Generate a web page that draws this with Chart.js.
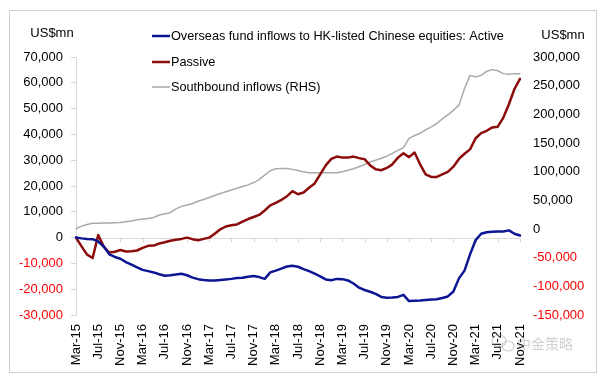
<!DOCTYPE html>
<html>
<head>
<meta charset="utf-8">
<script src="https://cdn.jsdelivr.net/npm/chart.js@4.4.0/dist/chart.umd.min.js"></script>
<style>
html, body { margin: 0; padding: 0; background: #fff; }
#wrap { position: relative; width: 603px; height: 385px; }
</style>
</head>
<body>
<div id="wrap"><canvas id="myChart" width="603" height="385"></canvas></div>
<script>
// month labels, Mar-15 .. Nov-21
const monthNames = ['Jan','Feb','Mar','Apr','May','Jun','Jul','Aug','Sep','Oct','Nov','Dec'];
const categories = [];
for (let i = 0; i < 81; i++) {
    const m = (2 + i) % 12;
    const y = 15 + Math.floor((2 + i) / 12);
    categories.push(monthNames[m] + '-' + y);
}

// US$mn, left axis
const activeFlows = [
    0, -300, -500, -600, -1500, -3500, -6500, -7500, -8200, -9500,
    -10500, -11500, -12500, -13000, -13500, -14200, -14800, -14600, -14300, -14000,
    -14600, -15500, -16100, -16400, -16600, -16600, -16400, -16200, -16000, -15700,
    -15600, -15200, -14900, -15300, -16000, -13500, -12800, -12000, -11200, -10900,
    -11300, -12200, -13000, -14000, -15000, -16200, -16500, -16000, -16100, -16600,
    -17800, -19400, -20300, -21000, -21800, -23000, -23300, -23200, -23000, -22200,
    -24600, -24500, -24400, -24200, -24000, -23900, -23400, -22800, -20900, -15800,
    -12800, -6500, -1000, 1500, 2100, 2300, 2400, 2400, 2800, 1500, 800
];
const passiveFlows = [
    0, -3400, -6600, -7900, 1000, -3500, -5800, -5500, -4800, -5400,
    -5300, -5000, -4000, -3200, -3100, -2300, -1800, -1200, -800, -500,
    0, -600, -1000, -500, 0, 1500, 3200, 4300, 4800, 5100,
    6200, 7200, 8000, 8800, 10500, 12500, 13500, 14600, 16000, 18000,
    16800, 17500, 19300, 21000, 24500, 28000, 30500, 31400, 31000, 31000,
    31400, 30800, 30400, 28000, 26500, 26100, 27000, 28400, 31000, 32700,
    31200, 33000, 28400, 24500, 23500, 23500, 24500, 25500, 27500, 30500,
    32500, 34200, 38500, 40500, 41400, 42700, 43000, 46500, 51700, 57600, 61500
];
// US$mn, right axis
const southbound = [
    500, 5000, 8000, 9900, 10200, 10500, 10600, 10800, 11200, 12500,
    14000, 16000, 17400, 18500, 20000, 24400, 26500, 28500, 35000, 39500,
    42000, 44500, 48500, 51500, 55000, 58500, 62000, 65000, 68000, 71000,
    74000, 77000, 81000, 86000, 94000, 101600, 105000, 105700, 105500, 104000,
    102000, 100000, 98100, 98000, 98000, 98000, 98000, 98100, 100000, 102500,
    105000, 108500, 112500, 117000, 120000, 123500, 127000, 132000, 137000, 142000,
    158000, 163000, 167000, 173000, 178000, 184000, 192000, 199000, 207000, 216000,
    245000, 268000, 265000, 268000, 275000, 278000, 276000, 271000, 270000, 271000, 271000
];

const seriesNames = [
    'Overseas fund inflows to HK-listed Chinese equities: Active',
    'Passive',
    'Southbound inflows (RHS)'
];
const seriesColors = ['#0c1694', '#8c0c0c', '#aaaaaa'];

const font = "Arial, 'Liberation Sans', sans-serif";
const axisGrey = '#d9d9d9';

function fmt(v) {
    return v.toLocaleString('en-US');
}
function tickColor(ctx) {
    return ctx.tick && ctx.tick.value < 0 ? '#ff0000' : '#000000';
}

// border, zero line, legend, unit labels, watermark
const decor = {
    id: 'decor',
    beforeDraw(chart) {
        const ctx = chart.ctx;
        ctx.save();
        ctx.fillStyle = '#fff';
        ctx.fillRect(0, 0, chart.width, chart.height);
        ctx.strokeStyle = '#d0d0d0';
        ctx.lineWidth = 1;
        ctx.strokeRect(9.5, 10.5, 587, 362);
        ctx.restore();
    },
    beforeDatasetsDraw(chart) {
        const ctx = chart.ctx;
        const area = chart.chartArea;
        const x = chart.scales.x;
        const y0 = Math.round(chart.scales.y.getPixelForValue(0)) + 0.5;
        ctx.save();
        ctx.strokeStyle = axisGrey;
        ctx.lineWidth = 1;
        ctx.beginPath();
        ctx.moveTo(area.left, y0);
        ctx.lineTo(area.right, y0);
        for (let i = 0; i < categories.length; i += 4) {
            const px = Math.round(x.getPixelForValue(i)) + 0.5;
            ctx.moveTo(px, y0);
            ctx.lineTo(px, y0 + 4);
        }
        ctx.stroke();
        ctx.restore();
    },
    afterDraw(chart) {
        const ctx = chart.ctx;
        ctx.save();
        ctx.font = '13px ' + font;
        ctx.textBaseline = 'middle';
        ctx.fillStyle = '#000';
        ctx.textAlign = 'center';
        ctx.fillText('US$mn', 52, 33);
        ctx.fillText('US$mn', 563, 35);

        // legend
        const rows = [36, 62, 87];
        ctx.font = '12.7px ' + font;
        ctx.textAlign = 'left';
        for (let i = 0; i < seriesNames.length; i++) {
            ctx.strokeStyle = seriesColors[i];
            ctx.lineWidth = i < 2 ? 2.5 : 1.5;
            ctx.beginPath();
            ctx.moveTo(152, rows[i]);
            ctx.lineTo(170, rows[i]);
            ctx.stroke();
            ctx.fillStyle = '#000';
            ctx.fillText(seriesNames[i], 171, rows[i] + 0.5);
        }

        // watermark
        ctx.globalAlpha = 0.45;
        ctx.strokeStyle = '#999';
        ctx.lineWidth = 1.2;
        ctx.beginPath();
        ctx.ellipse(499, 341, 7, 6, 0, 0, Math.PI * 2);
        ctx.stroke();
        ctx.beginPath();
        ctx.ellipse(508, 346, 6, 5, 0, 0, Math.PI * 2);
        ctx.stroke();
        ctx.fillStyle = '#999';
        ctx.font = "14px 'Noto Sans CJK SC', sans-serif";
        ctx.fillText('中金策略', 517, 344);
        ctx.restore();
    }
};

new Chart(document.getElementById('myChart'), {
    type: 'line',
    data: {
        labels: categories,
        datasets: [{
            label: seriesNames[0],
            data: activeFlows,
            borderColor: seriesColors[0],
            borderWidth: 2.5,
            yAxisID: 'y'
        }, {
            label: seriesNames[1],
            data: passiveFlows,
            borderColor: seriesColors[1],
            borderWidth: 2.5,
            yAxisID: 'y'
        }, {
            label: seriesNames[2],
            data: southbound,
            borderColor: seriesColors[2],
            borderWidth: 1.5,
            yAxisID: 'y2'
        }]
    },
    options: {
        responsive: false,
        animation: false,
        devicePixelRatio: 1,
        elements: {
            point: { radius: 0 },
            line: { tension: 0, borderJoinStyle: 'round', borderCapStyle: 'round' }
        },
        layout: { padding: { top: 57, left: 0, right: 0, bottom: 0 } },
        plugins: {
            legend: { display: false },
            tooltip: { enabled: false }
        },
        scales: {
            x: {
                grid: { display: false, drawTicks: false },
                border: { display: false },
                ticks: {
                    autoSkip: false,
                    maxRotation: 90,
                    minRotation: 90,
                    padding: 9,
                    color: '#000',
                    font: { family: font, size: 13 },
                    callback: function(val, i) {
                        return i % 4 === 0 ? categories[i] : '';
                    }
                },
                afterFit: function(scale) { scale.height = 70; }
            },
            y: {
                position: 'left',
                min: -30000,
                max: 70000,
                grid: { drawOnChartArea: false, tickLength: 5, color: axisGrey },
                border: { color: axisGrey },
                ticks: {
                    stepSize: 10000,
                    padding: 8,
                    color: tickColor,
                    font: { family: font, size: 13 },
                    callback: function(v) { return fmt(v); }
                },
                afterFit: function(scale) { scale.width = 76; }
            },
            y2: {
                position: 'right',
                min: -150000,
                max: 300000,
                grid: { display: false, drawTicks: false },
                border: { display: false },
                ticks: {
                    stepSize: 50000,
                    padding: 13,
                    color: tickColor,
                    font: { family: font, size: 13 },
                    callback: function(v) { return fmt(v); }
                },
                afterFit: function(scale) { scale.width = 83; }
            }
        }
    },
    plugins: [decor]
});
</script>
</body>
</html>
